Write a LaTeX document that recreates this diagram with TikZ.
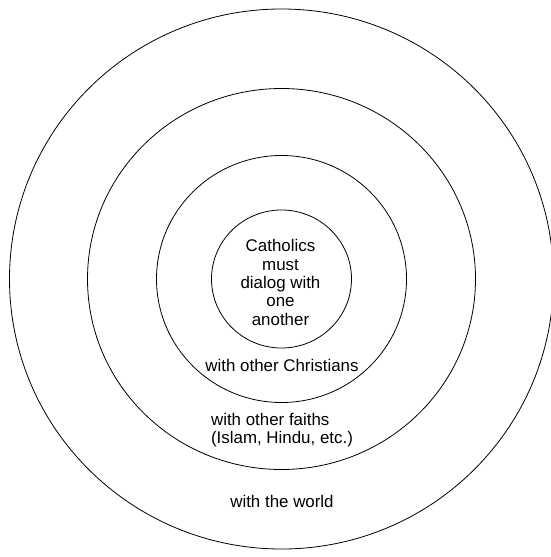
\documentclass[tikz,border=0pt]{standalone}
\usepackage{fontspec}
\setmainfont{Liberation Sans}
\begin{document}
\begin{tikzpicture}[x=1pt, y=-1pt,
  every node/.style={font=\fontsize{16.9}{18.4}\selectfont, inner sep=0pt},
  ring/.style={draw=black, line width=0.8pt}]
\useasboundingbox (0,0) rectangle (550,557);
\draw[ring] (281.5,279) ellipse [x radius=272, y radius=270];
\draw[ring] (281.5,279) ellipse [x radius=194, y radius=190.5];
\draw[ring] (281.5,279) ellipse [x radius=125, y radius=123.5];
\draw[ring] (281.5,279) ellipse [x radius=70, y radius=69];
\node[align=center] (core) at (280.5,282.5) {Catholics\\must\\dialog with\\one\\another};
\node (christians) at (282,365) {with other Christians};
\node[align=left] (faiths) at (282,430) {with other faiths\\(Islam, Hindu, etc.)};
\node (world) at (282,501) {with the world};
\end{tikzpicture}
\end{document}
